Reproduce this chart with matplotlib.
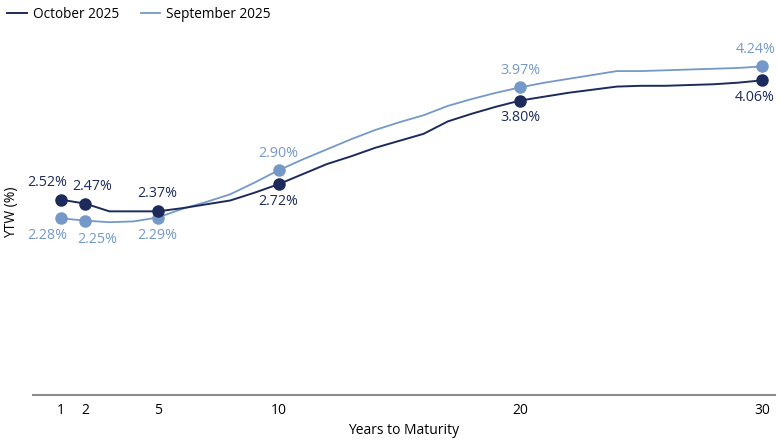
import matplotlib
matplotlib.use("Agg")
from matplotlib import pyplot as plt

plt.rcParams['font.family'] = ['Open Sans', 'DejaVu Sans']

years = list(range(1, 31))
october = [2.52, 2.47, 2.37, 2.37, 2.37, 2.41, 2.46, 2.51, 2.61, 2.72,
           2.85, 2.98, 3.08, 3.19, 3.28, 3.37, 3.53, 3.63, 3.72, 3.80,
           3.85, 3.90, 3.94, 3.98, 3.99, 3.99, 4.00, 4.01, 4.03, 4.06]
september = [2.28, 2.25, 2.23, 2.24, 2.29, 2.40, 2.49, 2.59, 2.74, 2.90,
             3.04, 3.17, 3.30, 3.42, 3.52, 3.61, 3.73, 3.82, 3.90, 3.97,
             4.03, 4.08, 4.13, 4.18, 4.18, 4.19, 4.20, 4.21, 4.22, 4.24]
key_years = [1, 2, 5, 10, 20, 30]
tick_labels = ['1', '2', '5', '10', '20', '30']

dark = '#1d2b5c'
light = '#7499c9'

fig = plt.figure(figsize=(7.8, 4.4), dpi=100)
ax = fig.add_axes([33 / 780, 45 / 440, 742 / 780, 365 / 440])

ax.plot(years, october, color=dark, lw=1.4, label='October 2025', zorder=3)
ax.plot(years, september, color=light, lw=1.3, label='September 2025', zorder=2)

oct_pts = [october[y - 1] for y in key_years]
sep_pts = [september[y - 1] for y in key_years]
ax.plot(key_years, oct_pts, 'o', color=dark, ms=8, zorder=4)
ax.plot(key_years, sep_pts, 'o', color=light, ms=8, zorder=3)

# label offsets in pixels (dx, dy)
oct_off = [(-14, 17), (7, 17), (0, 18), (0, -17), (0, -17), (-7, -17)]
sep_off = [(-14, -17), (12, -19), (0, -18), (0, 17), (0, 17), (-6, 17)]
for y, v, off in zip(key_years, oct_pts, oct_off):
    ax.annotate('{:.2f}%'.format(v), (y, v), xytext=off,
                textcoords='offset pixels', ha='center', va='center',
                color=dark, fontsize=10.3)
for y, v, off in zip(key_years, sep_pts, sep_off):
    ax.annotate('{:.2f}%'.format(v), (y, v), xytext=off,
                textcoords='offset pixels', ha='center', va='center',
                color=light, fontsize=10.3)

ax.set_xlim(-0.16, 30.54)
ax.set_ylim(0, 4.71)
ax.set_xticks(key_years)
ax.set_xticklabels(tick_labels, fontsize=10)
ax.set_yticks([])
ax.tick_params(axis='x', length=0, pad=6)
for s in ['top', 'right', 'left']:
    ax.spines[s].set_visible(False)
ax.spines['bottom'].set_color('#8c8c8c')
ax.spines['bottom'].set_linewidth(1.5)

ax.set_xlabel('Years to Maturity', fontsize=10, labelpad=3)
ax.set_ylabel('YTW (%)', fontsize=10, labelpad=10)

fig.legend(loc='upper left', bbox_to_anchor=(0.0, 1.0), ncol=2,
           frameon=False, fontsize=9.8, handlelength=1.45,
           handletextpad=0.45, columnspacing=1.6, borderaxespad=0.1)

fig.savefig('out.png', dpi=100)
